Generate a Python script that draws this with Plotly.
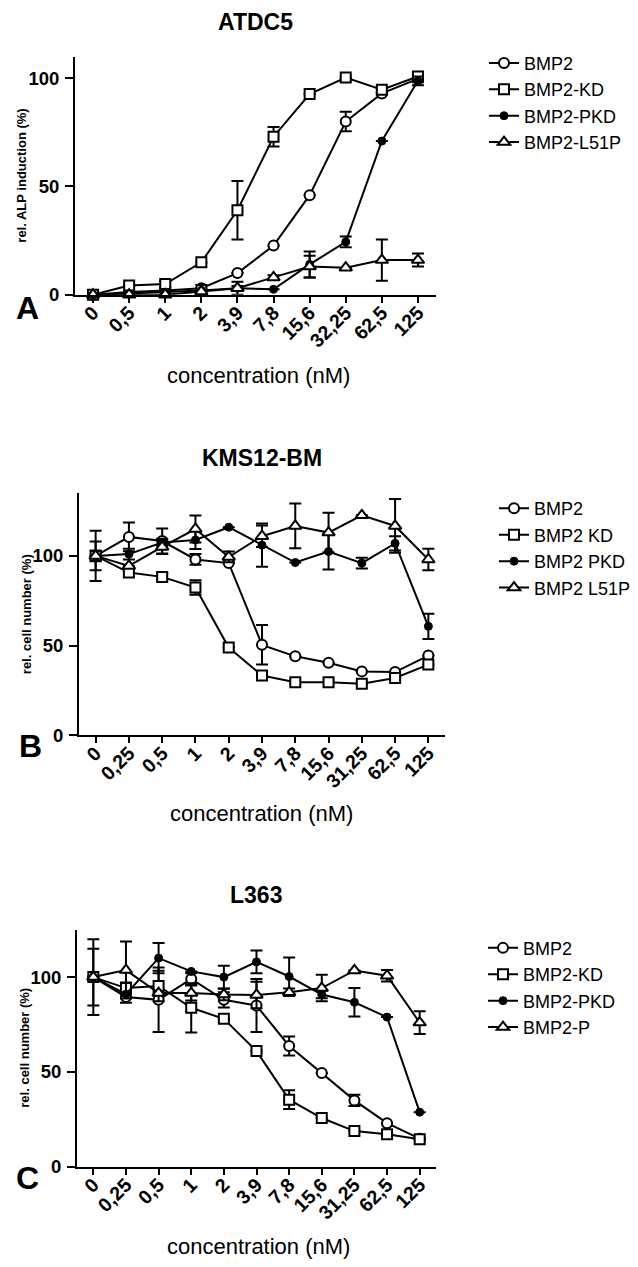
import plotly.graph_objects as go

W, H = 638, 1267

# ---------------- data ----------------
cats_A = ["0", "0,5", "1", "2", "3,9", "7,8", "15,6", "32,25", "62,5", "125"]
cats_BC = ["0", "0,25", "0,5", "1", "2", "3,9", "7,8", "15,6", "31,25", "62,5", "125"]

# Panel A: ATDC5 (rel. ALP induction %)
A_names = ["BMP2", "BMP2-KD", "BMP2-PKD", "BMP2-L51P"]
A_BMP2 = [0, 1.2, 2, 3, 10, 22.7, 46, 80, 93, 99.7]
A_BMP2_err = [None, None, None, None, None, None, None, 4.5, None, 1.5]
A_KD = [0, 4.3, 4.9, 15, 39, 73, 92.7, 100.3, 94.7, 100.8]
A_KD_err = [None, None, 1.5, None, 13.5, 4.5, None, None, 1, 1]
A_PKD = [0, 0.5, 1.2, 2, 3, 2.5, 14, 24.4, 71, 98.8]
A_PKD_err = [None, None, None, 2.5, 3, None, 6, 2.5, None, 2]
A_L51P = [0, 0, 0, 1.5, 3, 8, 13, 12.5, 16, 16]
A_L51P_err = [None, None, None, None, 1, 1, 5, None, 9.5, 3]

# Panel B: KMS12-BM (rel. cell number %)
B_names = ["BMP2", "BMP2 KD", "BMP2 PKD", "BMP2 L51P"]
B_BMP2 = [100, 110.6, 108.3, 98, 96, 50.4, 44, 40.4, 35.6, 35.2, 44.4]
B_BMP2_err = [8, 8, 7, 3, None, 11, None, None, None, None, None]
B_KD = [100, 90.7, 88.3, 82.4, 48.9, 33.3, 29.6, 29.6, 28.7, 31.9, 39.4]
B_KD_err = [14, None, 2, 4, None, None, None, None, None, None, None]
B_PKD = [100, 101, 107.5, 108.9, 116, 106, 96.3, 102.4, 96, 107, 60.7]
B_PKD_err = [3, 3, 2, 5, None, 12, None, 10, 3, 4, 7]
B_L51P = [100, 94.4, 105, 115, 99.4, 111, 116.7, 113, 122.6, 116.7, 98]
B_L51P_err = [None, None, 4, 7.5, 3, 6, 12.5, 11, None, 15, 6]

# Panel C: L363 (rel. cell number %)
C_names = ["BMP2", "BMP2-KD", "BMP2-PKD", "BMP2-P"]
C_BMP2 = [100, 89.5, 88, 99, 88, 85, 63.7, 49.4, 35, 23, 14.8]
C_BMP2_err = [15, 3, 17, 3, 4, 14, 5, None, 3, None, None]
C_KD = [100, 94.2, 95.3, 83.8, 78, 61, 35.4, 25.7, 18.8, 17.1, 14.5]
C_KD_err = [20, 3, 8, 13, None, None, 5, None, None, None, None]
C_PKD = [100, 91, 110, 103, 100, 108, 100.3, 90.8, 86.7, 78.9, 28.8]
C_PKD_err = [None, None, 8, None, 6, 6, 10, 2, 7.5, None, None]
C_P = [100, 103.7, 91.6, 91.6, 90.8, 90.6, 92, 94.2, 103.5, 100.7, 76]
C_P_err = [None, 15, None, 4, 3, 7, 2, 7, None, 3, 6]

# ---------------- styling ----------------
FONT = "Arial, Liberation Sans, sans-serif"
styles = [
    dict(symbol="circle", size=10, color="white", line=dict(color="black", width=2)),
    dict(symbol="square", size=10, color="white", line=dict(color="black", width=2)),
    dict(symbol="circle", size=8, color="black", line=dict(color="black", width=1)),
    dict(symbol="triangle-up", size=11, color="white", line=dict(color="black", width=2)),
]

fig = go.Figure()


def add_panel(cats, series, errs, names, xa, ya, legend):
    for i in range(4):
        fig.add_trace(go.Scatter(
            x=cats, y=series[i], name=names[i],
            mode="lines+markers",
            line=dict(color="black", width=2),
            marker=styles[i],
            error_y=dict(type="data", array=errs[i], visible=True,
                         color="black", thickness=2, width=6),
            xaxis=xa, yaxis=ya, legend=legend, cliponaxis=False,
        ))


add_panel(cats_A, [A_BMP2, A_KD, A_PKD, A_L51P],
          [A_BMP2_err, A_KD_err, A_PKD_err, A_L51P_err], A_names, "x", "y", "legend")
add_panel(cats_BC, [B_BMP2, B_KD, B_PKD, B_L51P],
          [B_BMP2_err, B_KD_err, B_PKD_err, B_L51P_err], B_names, "x2", "y2", "legend2")
add_panel(cats_BC, [C_BMP2, C_KD, C_PKD, C_P],
          [C_BMP2_err, C_KD_err, C_PKD_err, C_P_err], C_names, "x3", "y3", "legend3")


def px_x(v):
    return v / W


def px_y(v):
    return 1 - v / H


axis_common = dict(showgrid=False, zeroline=False, showline=True, linewidth=2,
                   linecolor="black", ticks="outside", tickwidth=2, tickcolor="black",
                   fixedrange=True)
xfont = dict(family=FONT, size=19.5, color="black", weight="bold")
yfont = dict(family=FONT, size=18.5, color="black", weight="bold")

panels = [
    # (xdomain px, ydomain px, n cats, yrange)
    ((67, 428), (49, 289), len(cats_A), 110),
    ((71, 437), (489, 733), len(cats_BC), 135),
    ((69, 428), (929, 1168), len(cats_BC), 125),
]
for k, (xd, yd, n, ymax) in enumerate(panels):
    sx = "" if k == 0 else str(k + 1)
    fig.layout["xaxis" + sx] = dict(
        axis_common, domain=[px_x(xd[0]), px_x(xd[1])], anchor="y" + sx,
        type="category", range=[-0.5, n - 0.5], tickangle=-45, ticklen=6,
        tickfont=xfont, ticklabelstandoff=-9)
    fig.layout["yaxis" + sx] = dict(
        axis_common, domain=[px_y(yd[1]), px_y(yd[0])], anchor="x" + sx,
        range=[0, ymax], tickvals=[0, 50, 100], ticklen=8, tickfont=yfont,
        ticklabelstandoff=2)

legend_common = dict(font=dict(family=FONT, size=18, color="black"),
                     bgcolor="rgba(0,0,0,0)", xanchor="left", yanchor="top",
                     tracegroupgap=0, itemclick=False, itemdoubleclick=False)
fig.update_layout(
    legend=dict(legend_common, x=px_x(476), y=px_y(37)),
    legend2=dict(legend_common, x=px_x(486), y=px_y(486)),
    legend3=dict(legend_common, x=px_x(475), y=px_y(929)),
)

ann = []


def text(x, y, s, size, bold=False, angle=0):
    ann.append(dict(x=px_x(x), y=px_y(y), xref="paper", yref="paper", text=s,
                    showarrow=False, xanchor="center", yanchor="middle",
                    textangle=angle,
                    font=dict(family=FONT, size=size, color="black",
                              weight="bold" if bold else "normal")))


# titles
text(248, 14, "ATDC5", 23, True)
text(254, 454, "KMS12-BM", 23, True)
text(248, 894, "L363", 23, True)
# panel letters
text(20, 302, "A", 32, True)
text(22, 744, "B", 32, True)
text(20, 1179, "C", 32, True)
# x titles
text(250, 370, "concentration (nM)", 22)
text(253, 812, "concentration (nM)", 22)
text(250, 1248, "concentration (nM)", 22)
# y titles
text(14, 169, "rel. ALP induction (%)", 13, True, -90)
text(18, 611, "rel. cell number (%)", 13, True, -90)
text(17, 1048, "rel. cell number (%)", 13, True, -90)

fig.update_layout(
    width=W, height=H, margin=dict(l=0, r=0, t=0, b=0),
    paper_bgcolor="white", plot_bgcolor="white", showlegend=True,
    annotations=ann,
)

fig.write_html("out.html")
